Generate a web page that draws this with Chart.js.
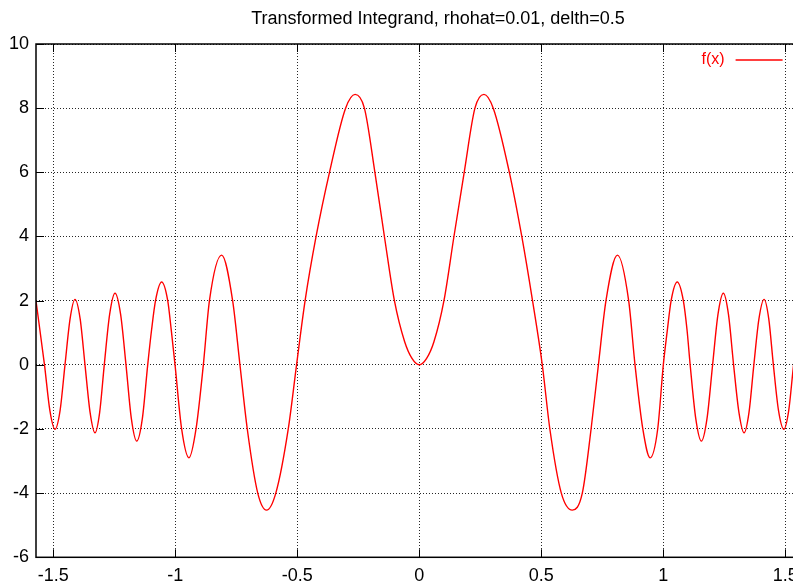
<!DOCTYPE html>
<html>
<head>
<meta charset="utf-8">
<script src="https://cdn.jsdelivr.net/npm/chart.js@4.4.1/dist/chart.umd.min.js"></script>
<style>
html, body { margin: 0; padding: 0; background: #fff; overflow: hidden; width: 793px; height: 584px; }
canvas { display: block; }
</style>
</head>
<body>
<canvas id="chart" width="876" height="584"></canvas>
<script>
// Data
var chartTitle = 'Transformed Integrand, rhohat=0.01, delth=0.5';
var seriesLabel = 'f(x)';

var xValues = [
    -1.571, -1.536, -1.514, -1.493, -1.472, -1.452, -1.431, -1.411, -1.390, -1.370,
    -1.349, -1.329, -1.310, -1.291, -1.269, -1.247, -1.224, -1.202, -1.180, -1.158,
    -1.135, -1.113, -1.097, -1.081, -1.056, -1.031, -1.016, -1.001, -0.974, -0.944,
    -0.915, -0.885, -0.860, -0.810, -0.765, -0.735, -0.705, -0.662, -0.626, -0.588,
    -0.537, -0.503, -0.468, -0.423, -0.368, -0.302, -0.263, -0.225, -0.182, -0.143,
    -0.102, -0.060, -0.030,
    0,
    0.030, 0.060, 0.101, 0.142, 0.184, 0.228, 0.265, 0.303, 0.369, 0.420,
    0.464, 0.504, 0.535, 0.582, 0.627, 0.668, 0.704, 0.734, 0.765, 0.812,
    0.858, 0.884, 0.916, 0.946, 0.977, 1.000, 1.016, 1.032, 1.057, 1.082,
    1.097, 1.110, 1.133, 1.156, 1.179, 1.202, 1.224, 1.246, 1.267, 1.288,
    1.310, 1.331, 1.351, 1.371, 1.392, 1.413, 1.432, 1.451, 1.472, 1.494,
    1.514, 1.534, 1.571
];
var yValues = [
    2.00, 0, -1.42, -2.01, -1.42, 0, 1.44, 2.04, 1.44, 0,
    -1.49, -2.12, -1.49, 0, 1.57, 2.23, 1.57, 0, -1.68, -2.38,
    -1.68, 0, 1.1, 2, 2.58, 2, 1.05, 0, -2, -2.90,
    -2, 0, 2, 3.42, 2, 0, -2, -4, -4.53, -4,
    -2, 0, 2, 4, 6, 8, 8.43, 8, 6, 4,
    2, 0.72, 0.2,
    0,
    0.2, 0.72, 2, 4, 6, 8, 8.43, 8, 6, 4,
    2, 0, -2, -4, -4.53, -4, -2, 0, 2, 3.42,
    2, 0, -2, -2.90, -2, 0, 1.05, 2, 2.58, 2,
    1.1, 0, -1.68, -2.38, -1.68, 0, 1.57, 2.23, 1.57, 0,
    -1.49, -2.12, -1.49, 0, 1.44, 2.04, 1.44, 0, -1.42, -2.01,
    -1.42, 0, 2.00
];

var xTicks = [-1.5, -1, -0.5, 0, 0.5, 1, 1.5];
var yTicks = [-6, -4, -2, 0, 2, 4, 6, 8, 10];
var xMin = -Math.PI / 2;
var xMax = Math.PI / 2;

var fontFamily = '"Liberation Sans", Arial, Helvetica, sans-serif';
var lineColor = '#ff0000';

var points = xValues.map(function(x, i){ return {x: x, y: yValues[i]}; });

// Title, gnuplot style frame and key
var decorPlugin = {
    id: 'decor',
    afterDatasetsDraw: function(chart){
        var ctx = chart.ctx;
        var area = chart.chartArea;
        var xs = chart.scales.x;
        var ys = chart.scales.y;
        var tick = 8;

        ctx.save();
        ctx.strokeStyle = '#000';
        ctx.lineWidth = 1.5;
        ctx.setLineDash([]);
        ctx.strokeRect(area.left, area.top, area.right - area.left, area.bottom - area.top);

        ctx.lineWidth = 1;
        ctx.beginPath();
        xTicks.forEach(function(v){
            var px = Math.round(xs.getPixelForValue(v)) + 0.5;
            ctx.moveTo(px, area.bottom);
            ctx.lineTo(px, area.bottom - tick);
            ctx.moveTo(px, area.top);
            ctx.lineTo(px, area.top + tick);
        });
        yTicks.forEach(function(v){
            var py = Math.round(ys.getPixelForValue(v)) + 0.5;
            ctx.moveTo(area.left, py);
            ctx.lineTo(area.left + tick, py);
            ctx.moveTo(area.right, py);
            ctx.lineTo(area.right - tick, py);
        });
        ctx.stroke();

        // key
        var ds = chart.data.datasets[0];
        var keyY = area.top + 16;
        ctx.font = '16px ' + fontFamily;
        ctx.fillStyle = ds.borderColor;
        ctx.textAlign = 'right';
        ctx.textBaseline = 'middle';
        ctx.fillText(ds.label, area.right - 78, keyY);
        ctx.strokeStyle = ds.borderColor;
        ctx.lineWidth = 1.3;
        ctx.beginPath();
        ctx.moveTo(area.right - 67, keyY);
        ctx.lineTo(area.right - 20, keyY);
        ctx.stroke();

        // title
        ctx.font = '18px ' + fontFamily;
        ctx.fillStyle = '#000';
        ctx.textAlign = 'center';
        ctx.textBaseline = 'alphabetic';
        ctx.fillText(chartTitle, chart.width / 2, 23.5);
        ctx.restore();
    }
};

var chart = new Chart(document.getElementById('chart'), {
    type: 'line',
    data: {
        datasets: [{
            label: seriesLabel,
            data: points,
            borderColor: lineColor,
            borderWidth: 1.4,
            pointRadius: 0,
            fill: false,
            cubicInterpolationMode: 'monotone'
        }]
    },
    options: {
        responsive: false,
        animation: false,
        layout: { padding: { top: 44, right: 73.4, left: 0, bottom: 0 } },
        plugins: {
            legend: { display: false },
            title: { display: false },
            tooltip: { enabled: false }
        },
        scales: {
            x: {
                type: 'linear',
                min: xMin,
                max: xMax,
                afterBuildTicks: function(scale){
                    scale.ticks = xTicks.map(function(v){ return {value: v}; });
                },
                afterFit: function(scale){ scale.height = 26.7; },
                grid: { color: 'rgba(0,0,0,0.85)', lineWidth: 1, drawTicks: false },
                border: { display: false, dash: [1, 2] },
                ticks: {
                    color: '#000',
                    padding: 8,
                    maxRotation: 0,
                    autoSkip: false,
                    font: { family: fontFamily, size: 18 },
                    callback: function(v){ return String(v); }
                }
            },
            y: {
                type: 'linear',
                min: -6,
                max: 10,
                afterBuildTicks: function(scale){
                    scale.ticks = yTicks.map(function(v){ return {value: v}; });
                },
                afterFit: function(scale){ scale.width = 36; },
                grid: { color: 'rgba(0,0,0,0.85)', lineWidth: 1, drawTicks: false },
                border: { display: false, dash: [1, 2] },
                ticks: {
                    color: '#000',
                    padding: 7,
                    font: { family: fontFamily, size: 18 },
                    callback: function(v){ return String(v); }
                }
            }
        }
    },
    plugins: [decorPlugin]
});
</script>
</body>
</html>
